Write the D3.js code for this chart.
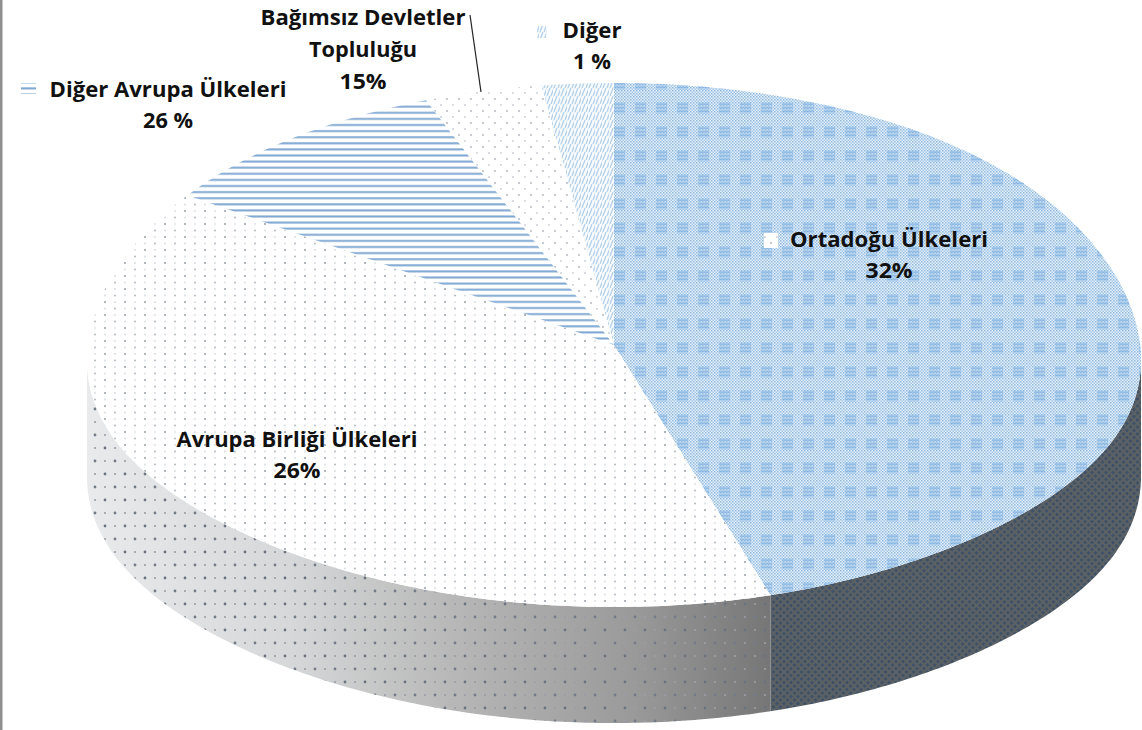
<!DOCTYPE html>
<html>
<head>
<meta charset="utf-8">
<script src="https://cdn.jsdelivr.net/npm/d3@7"></script>
<style>
  html, body { margin: 0; padding: 0; background: #fff; }
  svg { display: block; }
  text { font-family: "Open Sans", sans-serif; font-weight: 700; fill: #111; text-anchor: middle; }
</style>
</head>
<body>
<div id="chart"></div>
<script>
// slices, clockwise from 12 o'clock
const categories = ["Ortadoğu Ülkeleri", "Avrupa Birliği Ülkeleri", "Diğer Avrupa Ülkeleri", "Bağımsız Devletler Topluluğu", "Diğer"];
// the printed labels
const percentLabels = ["32%", "26%", "26 %", "15%", "1 %"];
// share of the circle each slice really takes up in the picture (it doesn't follow the labels)
const drawnShares = [45.2, 39.8, 9.2, 3.6, 2.2];

const width = 1142, height = 730;
const cx = 614, cy = 345, rx = 527, ry = 262, depth = 116;
const sag = 15; // perspective, the widest part of the disc sits below its centre

const svg = d3.select("#chart").append("svg")
    .attr("width", width)
    .attr("height", height);

const defs = svg.append("defs");

const addPattern = (id, w, h) => defs.append("pattern")
    .attr("id", id)
    .attr("patternUnits", "userSpaceOnUse")
    .attr("width", w)
    .attr("height", h);

const addDots = (p, dots) => dots.forEach(d => p.append("circle")
    .attr("cx", d[0]).attr("cy", d[1]).attr("r", d[2]).attr("fill", d[3]));

// fine blue check
const check = addPattern("check", 3, 3);
check.append("rect").attr("width", 3).attr("height", 3).attr("fill", "#e6f0f9");
check.append("rect").attr("width", 1.5).attr("height", 1.5).attr("fill", "#8fb9df");
check.append("rect").attr("x", 1.5).attr("y", 1.5).attr("width", 1.5).attr("height", 1.5).attr("fill", "#a3c7e8");

// plaid blocks on top of the check
const plaid = addPattern("plaid", 21, 24);
plaid.append("rect").attr("x", 5).attr("y", 6).attr("width", 11).attr("height", 12).attr("fill", "#8dbbe6").attr("opacity", 0.3);
d3.range(3).forEach(i => plaid.append("rect")
    .attr("x", 5).attr("y", 7.5 + i * 3.5).attr("width", 11).attr("height", 1.5)
    .attr("fill", "#6fa5da").attr("opacity", 0.45));

// pale diagonal strokes
const weave = addPattern("weave", 7, 8);
weave.append("rect").attr("width", 7).attr("height", 8).attr("fill", "#f7fbfe");
weave.append("path").attr("d", "M1,8L4,0M5,8L8,0M-3,8L0,0").attr("stroke", "#b4d0e9").attr("stroke-width", 1.3).attr("fill", "none");

const stripes = addPattern("stripes", 6, 6.1);
stripes.append("rect").attr("width", 6).attr("height", 6.1).attr("fill", "#fff");
stripes.append("rect").attr("y", 2).attr("width", 6).attr("height", 2).attr("fill", "#7fa8d3");

const dotsBig = addPattern("dotsBig", 20, 13);
dotsBig.append("rect").attr("width", 20).attr("height", 13).attr("fill", "#fff");
addDots(dotsBig, [[5, 3, 1.1, "#9ea5af"], [15, 9.5, 1.1, "#b9bfc7"], [15, 3, 0.9, "#d8dce1"], [5, 9.5, 0.9, "#d6dadf"]]);

const dotsSmall = addPattern("dotsSmall", 12, 12);
dotsSmall.append("rect").attr("width", 12).attr("height", 12).attr("fill", "#fff");
addDots(dotsSmall, [[3, 3, 0.9, "#aeb4bc"], [9, 9, 0.9, "#c8cdd3"]]);

// wall textures
const wallDots = addPattern("wallDots", 20, 26);
addDots(wallDots, [[5, 6, 1.4, "#6a737e"], [15, 19, 1.4, "#727b86"], [15, 6, 1.1, "#9a9fa6"], [5, 19, 1.1, "#9a9fa6"]]);

const wallWeave = addPattern("wallWeave", 7, 7);
wallWeave.append("rect").attr("width", 7).attr("height", 7).attr("fill", "#3f5166");
wallWeave.append("path").attr("d", "M0,0L7,7M7,0L0,7").attr("stroke", "#5c6165").attr("stroke-width", 2);

const wallGrad = defs.append("linearGradient")
    .attr("id", "wallGrad")
    .attr("gradientUnits", "userSpaceOnUse")
    .attr("x1", cx - rx).attr("x2", 775).attr("y1", 0).attr("y2", 0);
[[0, "#e9eaeb"], [0.3, "#d6d7d8"], [0.55, "#b5b5b5"], [0.8, "#999"], [1, "#757575"]].forEach(s =>
    wallGrad.append("stop").attr("offset", s[0]).attr("stop-color", s[1]));

// pie angles, then squashed onto the ellipse
const pie = d3.pie().sort(null).startAngle(0).endAngle(2 * Math.PI);
const slices = pie(drawnShares);
const px = a => cx + rx * Math.sin(a);
const py = a => cy - ry * Math.cos(a) + sag * Math.pow(Math.sin(a), 6);
const samples = (a0, a1) => {
    const n = Math.max(2, Math.ceil((a1 - a0) * 90));
    return d3.range(n + 1).map(i => a0 + (a1 - a0) * i / n);
};

const line = d3.line().x(d => d[0]).y(d => d[1]);
const slicePath = s => line([[cx, cy], ...samples(s.startAngle, s.endAngle).map(a => [px(a), py(a)])]) + "Z";

// wall, only the front half of the ellipse shows
const wallArea = d3.area().x(a => px(a)).y0(a => py(a)).y1(a => py(a) + depth);
const frontStart = Math.PI / 2, frontEnd = 3 * Math.PI / 2;
const wall = svg.append("g");
slices.forEach((s, i) => {
    const a0 = Math.max(s.startAngle, frontStart), a1 = Math.min(s.endAngle, frontEnd);
    if (a1 <= a0) return;
    const d = wallArea(samples(a0, a1));
    if (i === 0) {
        wall.append("path").attr("d", d).attr("fill", "url(#wallWeave)");
    } else {
        wall.append("path").attr("d", d).attr("fill", "url(#wallGrad)");
        wall.append("path").attr("d", d).attr("fill", "url(#wallDots)");
    }
});

// top face
const sliceFills = ["url(#check)", "url(#dotsBig)", "url(#stripes)", "url(#dotsSmall)", "url(#weave)"];
const topFace = svg.append("g");
topFace.selectAll(".slice")
    .data(slices)
    .join("path")
    .attr("class", "slice")
    .attr("d", slicePath)
    .attr("fill", (d, i) => sliceFills[i]);
topFace.append("path").attr("d", slicePath(slices[0])).attr("fill", "url(#plaid)");

// frame on the left
svg.append("rect").attr("x", 0).attr("y", 0).attr("width", 2.5).attr("height", height).attr("fill", "#8f8f8f");

// leader line for Bağımsız Devletler
svg.append("path")
    .attr("d", line([[470, 15], [481, 92]]))
    .attr("stroke", "#222")
    .attr("stroke-width", 1.2)
    .attr("fill", "none");

// legend keys printed next to the labels
const keys = [
    { slice: 0, x: 764, y: 233, w: 14, h: 15, fill: "url(#dotsSmall)" },
    { slice: 2, x: 21, y: 83, w: 15, h: 11, fill: "url(#stripes)" },
    { slice: 4, x: 537, y: 26, w: 10, h: 12, fill: "url(#weave)" }
];
svg.selectAll(".key")
    .data(keys)
    .join("rect")
    .attr("class", "key")
    .attr("x", d => d.x).attr("y", d => d.y)
    .attr("width", d => d.w).attr("height", d => d.h)
    .attr("fill", d => d.fill);

// label layout: text lines, x, first baseline, line gap, text widths
const labelLayout = [
    { lines: [categories[0], percentLabels[0]], x: 889, y: 247, gap: 31, widths: [198, 47] },
    { lines: [categories[1], percentLabels[1]], x: 297, y: 447, gap: 31, widths: [241, 47] },
    { lines: [categories[2], percentLabels[2]], x: 168, y: 97, gap: 31, widths: [237, 50] },
    { lines: ["Bağımsız Devletler", "Topluluğu", percentLabels[3]], x: 363, y: 25, gap: 32, widths: [205, 108, 47] },
    { lines: [categories[4], percentLabels[4]], x: 592, y: 38, gap: 31, widths: [59, 38] }
];
labelLayout.forEach(l => {
    l.lines.forEach((t, i) => {
        svg.append("text")
            .attr("x", l.x)
            .attr("y", l.y + i * l.gap)
            .attr("textLength", l.widths[i])
            .attr("lengthAdjust", "spacingAndGlyphs")
            .style("font-size", "21px")
            .text(t);
    });
});
</script>
</body>
</html>
